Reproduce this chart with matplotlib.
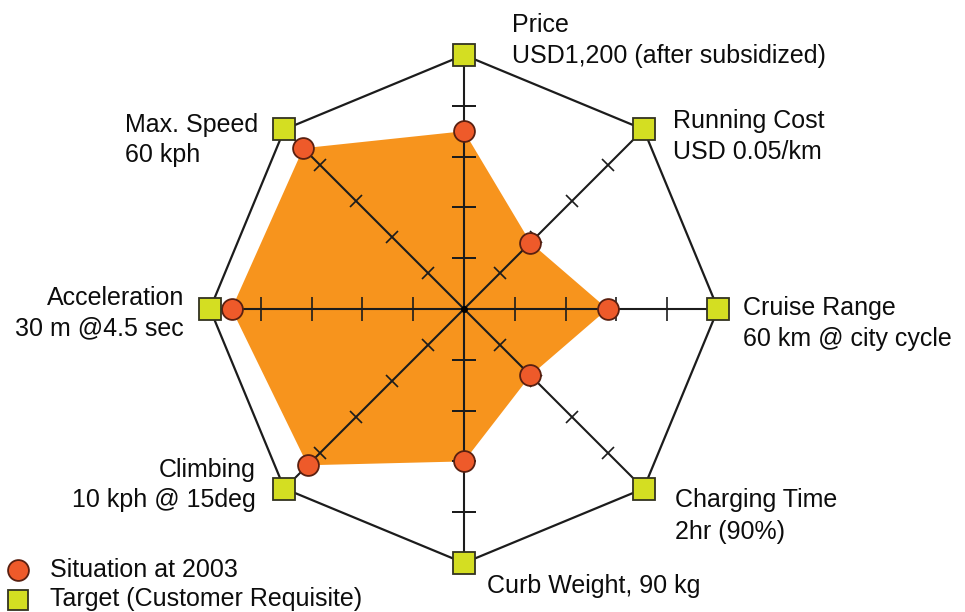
import numpy as np
import matplotlib
matplotlib.use("Agg")
import matplotlib.pyplot as plt
from matplotlib.markers import MarkerStyle
from matplotlib.transforms import Affine2D

plt.rcParams['font.family'] = ['Liberation Sans', 'DejaVu Sans']

# ---- data (fraction of target, clockwise from top) ----
axes_names = ["Price", "Running Cost", "Cruise Range", "Charging Time",
              "Curb Weight", "Climbing", "Acceleration", "Max. Speed"]
label_line1 = ["Price", "Running Cost", "Cruise Range", "Charging Time",
               "Curb Weight, 90 kg", "Climbing", "Acceleration", "Max. Speed"]
label_line2 = ["USD1,200 (after subsidized)", "USD 0.05/km", "60 km @ city cycle",
               "2hr (90%)", "", "10 kph @ 15deg", "30 m @4.5 sec", "60 kph"]
situation_2003 = [0.70, 0.37, 0.565, 0.37, 0.60, 0.87, 0.915, 0.895]
target = [1.0, 1.0, 1.0, 1.0, 1.0, 1.0, 1.0, 1.0]
tick_levels = [0.2, 0.4, 0.6, 0.8]
legend_labels = ["Situation at 2003", "Target (Customer Requisite)"]

W, H = 965, 612
fig = plt.figure(figsize=(W / 100, H / 100), dpi=100)

cx, cy, R = 464, 309, 254
ax = fig.add_axes([(cx - R) / W, (H - cy - R) / H, 2 * R / W, 2 * R / H],
                  projection='polar')
ax.set_theta_zero_location('N')
ax.set_theta_direction(-1)
ax.set_ylim(0, 1)
ax.grid(False)
ax.set_xticks([])
ax.set_yticks([])
ax.spines['polar'].set_visible(False)
ax.patch.set_alpha(0)

n = len(axes_names)
theta = np.arange(n) * 2 * np.pi / n
th_closed = np.append(theta, theta[0])

orange = '#F7941D'
circ_face = '#EE5A2A'
circ_edge = '#5a2010'
sq_face = '#D4DE22'
sq_edge = '#333320'
line_col = '#1c1c1c'

# fill of situation
sit = np.array(situation_2003)
ax.fill(th_closed, np.append(sit, sit[0]), color=orange, lw=0, zorder=1)

# radial axis lines
for t in theta:
    ax.plot([t, t], [0, 1], color=line_col, lw=1.5, zorder=2)

# tick marks
for i, t in enumerate(theta):
    phi = 90 - np.degrees(t)
    ms = MarkerStyle('_', transform=Affine2D().rotate_deg(phi + 90))
    size = 17 if i % 2 == 0 else 13
    ax.plot([t] * len(tick_levels), tick_levels, ls='none', marker=ms,
            markersize=size, markeredgewidth=1.2, color=line_col, zorder=3)

# center dot
ax.plot([0], [0], 'o', color='black', markersize=4, zorder=3)

# target octagon
tg = np.array(target)
ax.plot(th_closed, np.append(tg, tg[0]), color=line_col, lw=1.6, zorder=2)

# markers
ax.plot(theta, sit, ls='none', marker='o', markersize=15,
        markerfacecolor=circ_face, markeredgecolor=circ_edge,
        markeredgewidth=1.3, zorder=5, clip_on=False)
ax.plot(theta, tg, ls='none', marker='s', markersize=16,
        markerfacecolor=sq_face, markeredgecolor=sq_edge,
        markeredgewidth=1.3, zorder=5, clip_on=False)

# overlay axes in pixel coordinates for labels
ov = fig.add_axes([0, 0, 1, 1])
ov.set_xlim(0, W)
ov.set_ylim(H, 0)
ov.axis('off')
ov.patch.set_alpha(0)

fs = 18
txt_col = '#0d0d0d'
# (x, baseline1, baseline2, ha)
label_pos = [
    (512, 32, 63, 'left'),
    (673, 128, 159, 'left'),
    (743, 315, 346, 'left'),
    (675, 507, 539, 'left'),
    (487, 593, None, 'left'),
    (256, 477, 507, 'right'),
    (184, 305, 335, 'right'),
    (125, 132, 162, 'left'),
]
for (x, b1, b2, ha), l1, l2 in zip(label_pos, label_line1, label_line2):
    ov.text(x, b1, l1, fontsize=fs, ha=ha, va='baseline', color=txt_col)
    if b2 is not None and l2:
        ov.text(x, b2, l2, fontsize=fs, ha=ha, va='baseline', color=txt_col)

# legend
ov.plot([18], [570], ls='none', marker='o', markersize=15,
        markerfacecolor=circ_face, markeredgecolor=circ_edge, markeredgewidth=1.3)
ov.plot([18], [600], ls='none', marker='s', markersize=15,
        markerfacecolor=sq_face, markeredgecolor=sq_edge, markeredgewidth=1.3,
        clip_on=False)
ov.text(50, 577, legend_labels[0], fontsize=fs, va='baseline', color=txt_col)
ov.text(50, 606, legend_labels[1], fontsize=fs, va='baseline', color=txt_col)

fig.savefig('out.png', dpi=100, facecolor='white')
